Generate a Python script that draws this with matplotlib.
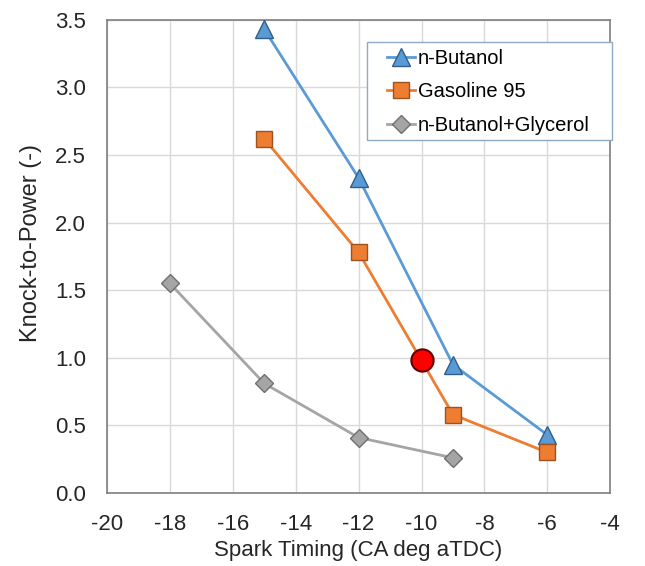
import matplotlib
matplotlib.use('Agg')
import matplotlib.pyplot as plt
from matplotlib.patches import Rectangle

plt.rcParams['font.family'] = ['Liberation Sans', 'DejaVu Sans']
plt.rcParams['axes.unicode_minus'] = False

# data
butanol_x = [-15, -12, -9, -6]
butanol_y = [3.43, 2.33, 0.95, 0.43]
gasoline_x = [-15, -12, -9, -6]
gasoline_y = [2.62, 1.78, 0.58, 0.30]
glycerol_x = [-18, -15, -12, -9]
glycerol_y = [1.55, 0.81, 0.41, 0.26]
point_x = [-10]
point_y = [0.98]
labels = ['n-Butanol', 'Gasoline 95', 'n-Butanol+Glycerol']

def main():
	fig = plt.figure(figsize=(6.45, 5.66), dpi=100)
	ax = fig.add_axes([0.166, 0.129, 0.780, 0.836])

	ax.plot(butanol_x, butanol_y, color='#5B9BD5', lw=2, marker='^', ms=13,
		mfc='#5B9BD5', mec='#2F5F8A', mew=1, label=labels[0], zorder=3)
	ax.plot(gasoline_x, gasoline_y, color='#ED7D31', lw=2, marker='s', ms=11,
		mfc='#ED7D31', mec='#9E5220', mew=1, label=labels[1], zorder=3)
	ax.plot(glycerol_x, glycerol_y, color='#A5A5A5', lw=2, marker='D', ms=9.5,
		mfc='#A5A5A5', mec='#6F6F6F', mew=1, label=labels[2], zorder=3)
	ax.plot(point_x, point_y, ls='none', marker='o', ms=16, mfc='#FF0000',
		mec='#600000', mew=1.5, zorder=4)

	ax.set_xlim(-20, -4)
	ax.set_ylim(0, 3.5)
	ax.set_xticks(range(-20, -3, 2))
	ax.set_yticks([0, 0.5, 1.0, 1.5, 2.0, 2.5, 3.0, 3.5])
	ax.set_yticklabels(['%.1f' % v for v in ax.get_yticks()])
	ax.grid(True, color='#D9D9D9', lw=1)
	ax.set_axisbelow(True)
	ax.tick_params(length=0, labelsize=16, pad=15, labelcolor='#262626')
	for s in ax.spines.values():
		s.set_color('#7F7F7F')
		s.set_linewidth(1.2)

	ax.set_xlabel('Spark Timing (CA deg aTDC)', fontsize=16, color='#262626', labelpad=4)
	ax.set_ylabel('Knock-to-Power (-)', fontsize=17, color='#262626')
	ax.yaxis.set_label_coords(-0.129, 0.529)

	# legend box drawn separately so padding matches the Excel look
	box = Rectangle((0.517, 0.746), 0.487, 0.207, transform=ax.transAxes,
		facecolor='white', edgecolor='#8FAAC4', lw=1, zorder=5, clip_on=False)
	ax.add_patch(box)
	leg = ax.legend(loc='upper left', bbox_to_anchor=(0.557, 0.939), fontsize=14.5,
		frameon=False, handlelength=1.4, borderpad=0, labelspacing=0.72,
		handletextpad=0.1, borderaxespad=0)
	leg.set_zorder(6)

	fig.savefig('out.png', dpi=100)

if __name__ == '__main__':
	main()
